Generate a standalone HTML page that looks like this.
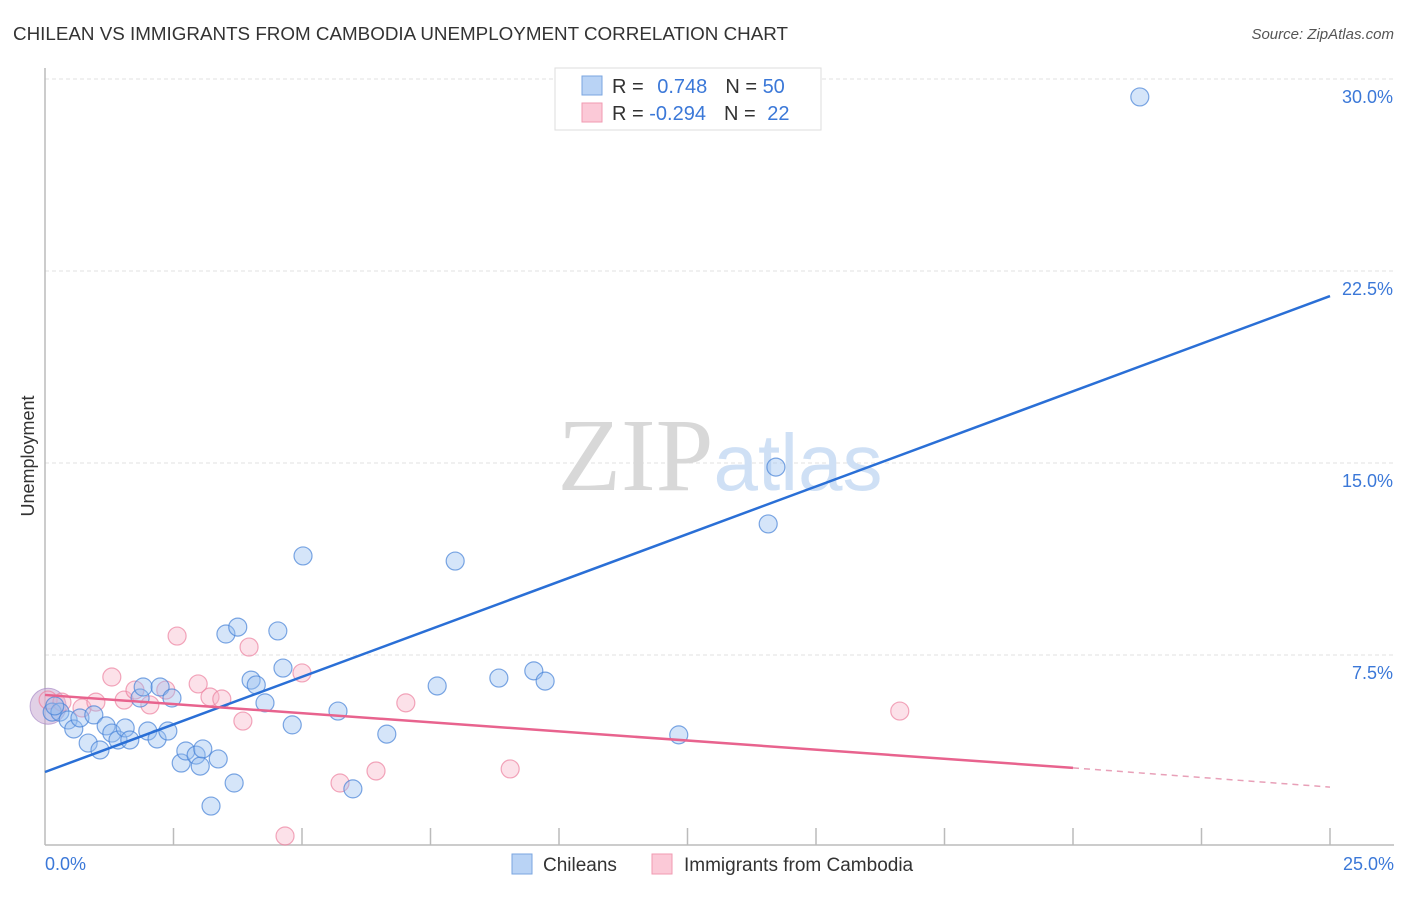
<!DOCTYPE html>
<html><head><meta charset="utf-8"><style>
body{margin:0;background:#fff;font-family:"Liberation Sans",sans-serif}
</style></head><body>
<svg id="chart" width="1406" height="892" xmlns="http://www.w3.org/2000/svg" font-family="Liberation Sans, sans-serif">
<text x="13" y="40" font-size="18" fill="#333" textLength="775" lengthAdjust="spacingAndGlyphs">CHILEAN VS IMMIGRANTS FROM CAMBODIA UNEMPLOYMENT CORRELATION CHART</text>
<text x="1394" y="39" font-size="15" fill="#555" font-style="italic" text-anchor="end">Source: ZipAtlas.com</text>
<g id="grid"></g>
<text x="720" y="490" font-size="104" text-anchor="middle"><tspan font-family="Liberation Serif, serif" fill="#d8d8d8">ZIP</tspan><tspan fill="#cfe0f5" font-size="80">atlas</tspan></text>
<line x1="45" y1="68" x2="45" y2="845" stroke="#bbb" stroke-width="1.5"/>
<line x1="45" y1="845" x2="1394" y2="845" stroke="#bbb" stroke-width="1.5"/>
<text transform="translate(34,456) rotate(-90)" font-size="18" fill="#333" text-anchor="middle">Unemployment</text>
<text x="45" y="870" font-size="18" fill="#3b78d8">0.0%</text>
<text x="1394" y="870" font-size="18" fill="#3b78d8" text-anchor="end">25.0%</text>
<g id="points"></g>
<g id="lines"></g>
<g>
<rect x="555" y="68" width="266" height="62" fill="#fff" stroke="#ddd"/>
<rect x="582" y="76" width="20" height="19" fill="#b9d3f5" stroke="#7aa6e0"/>
<rect x="582" y="103" width="20" height="19" fill="#fbc9d7" stroke="#f09ab2"/>
<text x="612" y="93" font-size="20" fill="#333">R = <tspan fill="#3b78d8" dx="8">0.748</tspan><tspan dx="18" fill="#333">N = </tspan><tspan fill="#3b78d8">50</tspan></text>
<text x="612" y="120" font-size="20" fill="#333">R = <tspan fill="#3b78d8">-0.294</tspan><tspan dx="18" fill="#333">N = </tspan><tspan fill="#3b78d8" dx="6">22</tspan></text>
</g>
<g>
<rect x="512" y="854" width="20" height="20" fill="#b9d3f5" stroke="#7aa6e0"/>
<text x="543" y="871" font-size="19" fill="#333">Chileans</text>
<rect x="652" y="854" width="20" height="20" fill="#fbc9d7" stroke="#f09ab2"/>
<text x="684" y="871" font-size="19" fill="#333">Immigrants from Cambodia</text>
</g>
</svg>
<script>
const yTicks=[7.5,15,22.5,30];
const yTickLabels=["7.5%","15.0%","22.5%","30.0%"];
const xTicks=[2.5,5,7.5,10,12.5,15,17.5,20,22.5,25];
const blueX=[0.14,0.29,0.45,0.56,0.68,0.84,0.95,1.07,1.19,1.30,1.42,1.56,1.65,1.85,1.91,2.00,2.18,2.24,2.39,2.47,2.65,2.74,2.94,3.02,3.07,3.37,3.23,3.52,3.68,3.75,4.01,4.11,4.28,4.53,4.63,4.81,5.02,5.70,5.99,6.65,7.63,7.98,8.83,9.51,9.73,12.33,14.07,14.22,21.30,0.19];
const blueY=[5.27,5.27,4.96,4.61,5.04,4.06,5.16,3.79,4.73,4.45,4.18,4.65,4.18,5.82,6.25,4.53,4.22,6.25,4.53,5.82,3.28,3.75,3.59,3.16,3.83,3.44,1.60,8.32,2.50,8.59,6.52,6.33,5.63,8.44,6.99,4.77,11.37,5.31,2.27,4.41,6.29,11.17,6.60,6.88,6.48,4.38,12.62,14.84,29.30,5.51];
const pinkX=[0.06,0.33,0.72,0.99,1.30,1.54,1.75,2.04,2.35,2.57,2.98,3.21,3.44,3.85,3.97,5.00,5.74,6.44,7.02,9.05,16.63,4.67];
const pinkY=[5.74,5.66,5.43,5.66,6.64,5.74,6.13,5.55,6.13,8.24,6.37,5.86,5.78,4.92,7.81,6.80,2.50,2.97,5.63,3.05,5.31,0.43];
const blueFit=[2.93,21.52];
const pinkFit=[5.94,3.09,2.34];
const X=v=>45+v*51.4, Y=v=>847-v*25.6;
const NS="http://www.w3.org/2000/svg";
function mk(tag,attrs,parent){const e=document.createElementNS(NS,tag);for(const k in attrs)e.setAttribute(k,attrs[k]);parent.appendChild(e);return e;}
const grid=document.getElementById('grid');
yTicks.forEach((t,i)=>{
 const l=mk('line',{x1:45,x2:1394,y1:Y(t),y2:Y(t),stroke:'#e2e2e2','stroke-width':1,'stroke-dasharray':'4,3'},grid);
 
 
 const tx=mk('text',{x:1393,y:Y(t)+24,'font-size':18,fill:'#3b78d8','text-anchor':'end'},grid);
 tx.textContent=yTickLabels[i];
 
 
});
xTicks.forEach(t=>{
 const l=mk('line',{x1:X(t),x2:X(t),y1:828,y2:845,stroke:'#bbb','stroke-width':1.5},grid);
 
 
});
const pts=document.getElementById('points');
const big1=mk('circle',{cx:X(0.06),cy:Y(5.5),r:18,fill:'rgba(200,170,210,0.55)',stroke:'rgba(170,140,200,0.7)'},pts);


pinkX.forEach((x,i)=>{
 const c=mk('circle',{cx:X(x),cy:Y(pinkY[i]),r:9,fill:'rgba(248,180,200,0.4)',stroke:'rgba(236,130,160,0.7)','stroke-width':1.2},pts);
 
 
});
blueX.forEach((x,i)=>{
 const c=mk('circle',{cx:X(x),cy:Y(blueY[i]),r:9,fill:'rgba(150,190,240,0.4)',stroke:'rgba(70,130,215,0.7)','stroke-width':1.2},pts);
 
 
});
const ln=document.getElementById('lines');
const b=mk('line',{x1:X(0),y1:Y(blueFit[0]),x2:X(25),y2:Y(blueFit[1]),stroke:'#2a6fd6','stroke-width':2.5},ln);


const p=mk('line',{x1:X(0),y1:Y(pinkFit[0]),x2:X(20),y2:Y(pinkFit[1]),stroke:'#e8638e','stroke-width':2.5},ln);


const pd=mk('line',{x1:X(20),y1:Y(pinkFit[1]),x2:X(25),y2:Y(pinkFit[2]),stroke:'#e8a0b8','stroke-width':1.5,'stroke-dasharray':'6,5'},ln);


</script>
</body></html>
